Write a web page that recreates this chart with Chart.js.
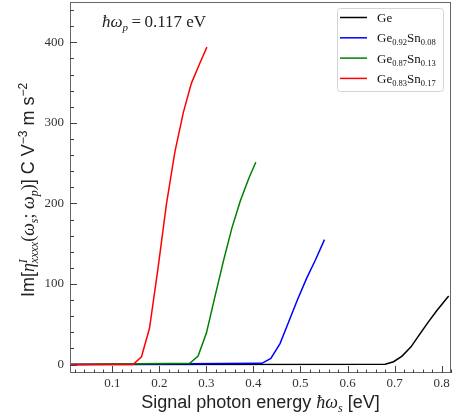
<!DOCTYPE html>
<html>
<head>
<meta charset="utf-8">
<script src="https://cdn.jsdelivr.net/npm/chart.js@4.4.1/dist/chart.umd.min.js"></script>
<style>
  html, body { margin: 0; padding: 0; background: #fff; }
  #wrap { width: 455px; height: 416px; }
</style>
</head>
<body>
<div id="wrap"><canvas id="chart" width="455" height="416"></canvas></div>
<script>
// photon energy (eV) and Im[eta] values per alloy
const geX = [0.01, 0.68, 0.698, 0.716, 0.735, 0.754, 0.772, 0.79, 0.815];
const geY = [0, 0.5, 3.5, 10.5, 22, 38, 53, 67, 85];

const sn08X = [0.01, 0.418, 0.437, 0.4565, 0.475, 0.494, 0.513, 0.532, 0.551];
const sn08Y = [0, 1.5, 7.5, 26, 53, 81, 107, 130, 155];

const sn13X = [0.01, 0.2646, 0.2823, 0.300, 0.318, 0.336, 0.354, 0.372, 0.390, 0.405];
const sn13Y = [0, 1.5, 10.5, 39, 84, 128, 169, 203, 231, 251];

const sn17X = [0.01, 0.144, 0.162, 0.179, 0.197, 0.215, 0.233, 0.251, 0.268, 0.286, 0.301];
const sn17Y = [0, 0, 9.7, 45, 119, 199, 264, 313, 349, 374, 394];

const xTicks = [0.1, 0.2, 0.3, 0.4, 0.5, 0.6, 0.7, 0.8];
const yTicks = [0, 100, 200, 300, 400];

const SERIF = "'Liberation Serif', 'DejaVu Serif', serif";
const SANS = "'Liberation Sans', Arial, sans-serif";

function pts(xs, ys) {
    return xs.map((x, i) => ({ x: x, y: ys[i] }));
}

// draw a run of text pieces (sub/superscripts) starting at x, baseline y
function richWidth(ctx, parts) {
    let w = 0;
    parts.forEach(p => {
        ctx.font = p.font;
        const pw = ctx.measureText(p.t).width;
        if (p.stack) return;
        w += pw;
    });
    return w;
}
function richDraw(ctx, parts, x, y) {
    let cx = x;
    parts.forEach(p => {
        ctx.font = p.font;
        ctx.fillText(p.t, cx, y + (p.dy || 0));
        if (!p.stack) cx += ctx.measureText(p.t).width;
    });
}

const yTitle = [
    { t: 'Im[', font: '18px ' + SANS },
    { t: 'η', font: 'italic 18px ' + SERIF },
    { t: 'I', font: 'italic 12px ' + SERIF, dy: -7, stack: true },
    { t: 'xxxx', font: 'italic 12px ' + SERIF, dy: 4 },
    { t: '(', font: '18px ' + SERIF },
    { t: 'ω', font: 'italic 18px ' + SERIF },
    { t: 's', font: 'italic 12px ' + SERIF, dy: 4 },
    { t: '; ', font: '18px ' + SERIF },
    { t: 'ω', font: 'italic 18px ' + SERIF },
    { t: 'p', font: 'italic 12px ' + SERIF, dy: 4 },
    { t: ')', font: '18px ' + SERIF },
    { t: '] C V', font: '18px ' + SANS },
    { t: '−3', font: '12px ' + SANS, dy: -7 },
    { t: ' m s', font: '18px ' + SANS },
    { t: '−2', font: '12px ' + SANS, dy: -7 }
];

const xTitle = [
    { t: 'Signal photon energy ', font: '18px ' + SANS },
    { t: 'ħω', font: 'italic 18px ' + SERIF },
    { t: 's', font: 'italic 12px ' + SERIF, dy: 4 },
    { t: ' [eV]', font: '18px ' + SANS }
];

const note = [
    { t: 'ħω', font: 'italic 17px ' + SERIF },
    { t: 'p', font: 'italic 11px ' + SERIF, dy: 4 },
    { t: '\u2009=\u20090.117 eV', font: '17px ' + SERIF }
];

function alloy(a, b) {
    return [
        { t: 'Ge', font: '13px ' + SERIF },
        { t: a, font: '8.5px ' + SERIF, dy: 3 },
        { t: 'Sn', font: '13px ' + SERIF },
        { t: b, font: '8.5px ' + SERIF, dy: 3 }
    ];
}
const legendRows = [
    { color: '#000000', parts: [{ t: 'Ge', font: '13px ' + SERIF }] },
    { color: '#0000ff', parts: alloy('0.92', '0.08') },
    { color: '#008000', parts: alloy('0.87', '0.13') },
    { color: '#ff0000', parts: alloy('0.83', '0.17') }
];

const decor = {
    id: 'decor',
    afterDraw(chart) {
        const ctx = chart.ctx;
        const a = chart.chartArea;
        const xs = chart.scales.x, ys = chart.scales.y;
        ctx.save();

        // frame
        ctx.strokeStyle = '#666';
        ctx.lineWidth = 1;
        ctx.strokeRect(a.left + 0.5, a.top + 0.5, a.right - a.left - 1, a.bottom - a.top - 1);

        // inward ticks
        ctx.strokeStyle = '#444';
        ctx.beginPath();
        for (let v = 0.02; v <= 0.821; v += 0.02) {
            const px = Math.round(xs.getPixelForValue(v)) + 0.5;
            const major = Math.abs(v * 10 - Math.round(v * 10)) < 1e-6;
            ctx.moveTo(px, a.bottom);
            ctx.lineTo(px, a.bottom - (major ? 7 : 3.5));
        }
        for (let v = 0; v <= 440; v += 20) {
            const py = Math.round(ys.getPixelForValue(v)) + 0.5;
            const major = v % 100 === 0;
            ctx.moveTo(a.left, py);
            ctx.lineTo(a.left + (major ? 7 : 4), py);
        }
        ctx.stroke();

        ctx.fillStyle = '#222';
        ctx.textBaseline = 'alphabetic';
        ctx.textAlign = 'left';

        // x title
        const xw = richWidth(ctx, xTitle);
        richDraw(ctx, xTitle, (a.left + a.right) / 2 - xw / 2, 408);

        // y title, rotated
        const yw = richWidth(ctx, yTitle);
        ctx.save();
        ctx.translate(34, 190);
        ctx.rotate(-Math.PI / 2);
        richDraw(ctx, yTitle, -yw / 2, 0);
        ctx.restore();

        // annotation
        richDraw(ctx, note, 102, 27);

        // legend
        ctx.fillStyle = 'rgba(255,255,255,0.85)';
        ctx.strokeStyle = '#d4d4d4';
        ctx.beginPath();
        ctx.roundRect(337.5, 8.5, 106, 83, 3);
        ctx.fill();
        ctx.stroke();
        legendRows.forEach((r, i) => {
            const ry = 17.5 + i * 20.3;
            ctx.strokeStyle = r.color;
            ctx.lineWidth = 1.5;
            ctx.beginPath();
            ctx.moveTo(340, ry);
            ctx.lineTo(367, ry);
            ctx.stroke();
            ctx.fillStyle = '#111';
            richDraw(ctx, r.parts, 377, ry + 4.5);
        });

        ctx.restore();
    }
};

const ds = (label, xs, ys, color, order) => ({
    label: label,
    data: pts(xs, ys),
    borderColor: color,
    backgroundColor: color,
    borderWidth: 1.5,
    pointRadius: 0,
    tension: 0,
    fill: false,
    order: order
});

new Chart(document.getElementById('chart'), {
    type: 'line',
    data: {
        datasets: [
            ds('Ge', geX, geY, '#000000', 3),
            ds('Ge0.92Sn0.08', sn08X, sn08Y, '#0000ff', 2),
            ds('Ge0.87Sn0.13', sn13X, sn13Y, '#008000', 1),
            ds('Ge0.83Sn0.17', sn17X, sn17Y, '#ff0000', 0)
        ]
    },
    options: {
        responsive: false,
        animation: false,
        layout: { padding: { left: 0, right: 4, top: 2, bottom: 0 } },
        plugins: {
            legend: { display: false },
            tooltip: { enabled: false }
        },
        scales: {
            x: {
                type: 'linear',
                min: 0.01,
                max: 0.82,
                grid: { display: false, drawTicks: false },
                border: { display: false },
                afterBuildTicks: s => { s.ticks = xTicks.map(v => ({ value: v })); },
                afterFit: s => { s.height = 43; s.paddingLeft = 0; s.paddingRight = 0; },
                ticks: {
                    padding: 3,
                    color: '#333',
                    font: { family: SERIF, size: 13 },
                    maxRotation: 0,
                    callback: v => v.toFixed(1)
                }
            },
            y: {
                min: -10.5,
                max: 450,
                grid: { display: false, drawTicks: false },
                border: { display: false },
                afterBuildTicks: s => { s.ticks = yTicks.map(v => ({ value: v })); },
                afterFit: s => { s.width = 70; s.paddingTop = 0; s.paddingBottom = 0; },
                ticks: {
                    padding: 6,
                    color: '#333',
                    font: { family: SERIF, size: 13 },
                    callback: v => String(v)
                }
            }
        }
    },
    plugins: [decor]
});
</script>
</body>
</html>
